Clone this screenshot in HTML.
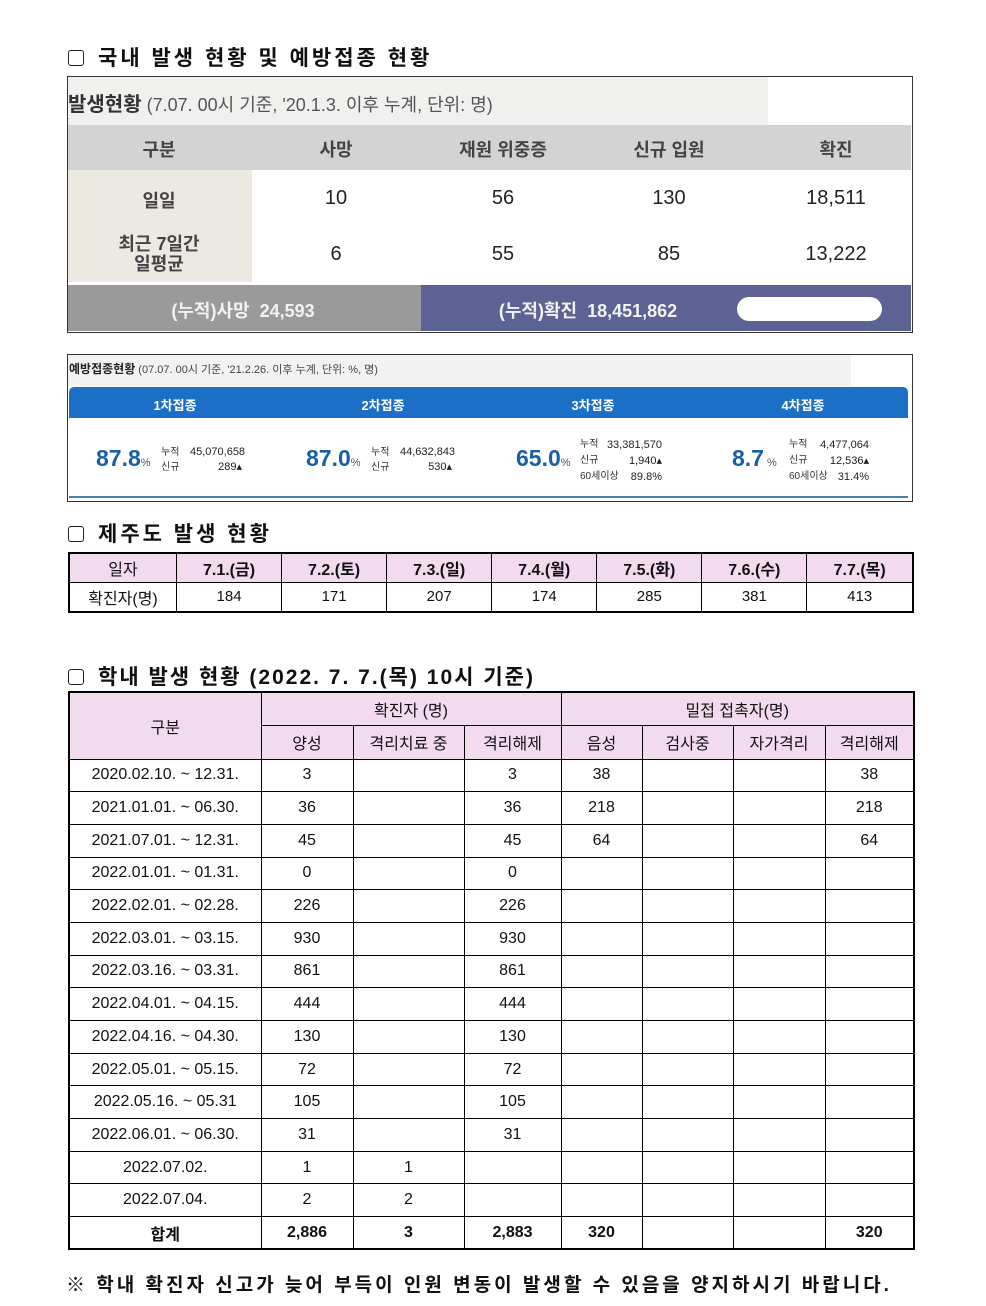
<!DOCTYPE html>
<html><head><meta charset="utf-8"><style>
body{margin:0;width:986px;height:1306px;background:#fff;font-family:"Liberation Sans","Noto Sans CJK KR",sans-serif;position:relative;overflow:hidden;color:#111}
.a{position:absolute}
.h{font-size:21px;font-weight:bold;letter-spacing:3px;white-space:nowrap}
.cb{display:inline-block;width:14px;height:14px;border:1.5px solid #222;border-radius:3px;margin-right:14px;vertical-align:-1px}
.c{position:absolute;text-align:center;transform:translateX(-50%);white-space:nowrap}
table{border-collapse:collapse;position:absolute}
td{border:1px solid #000;text-align:center;padding:0;font-size:16px}
.pk{background:#f3dbef}
</style></head><body>
<div class="a h" style="left:68px;top:42px"><span class="cb"></span>국내 발생 현황 및 예방접종 현황</div>

<div class="a" style="left:67px;top:76px;width:844px;height:255px;border:1px solid #333;background:#fff"></div>
<div class="a" style="left:68px;top:77px;width:700px;height:48px;background:#f0f0ee"></div>
<div class="a" style="left:68px;top:88px;font-size:18px;color:#555;white-space:nowrap"><b style="color:#333;font-size:20px">발생현황</b> (7.07. 00시 기준, '20.1.3. 이후 누계, 단위: 명)</div>
<div class="a" style="left:68px;top:125px;width:843px;height:45px;background:#d3d3d3"></div>
<div class="a" style="left:68px;top:170px;width:184px;height:112px;background:#ece9e3"></div>
<div class="a" style="left:68px;top:285px;width:353px;height:46px;background:#9a9a9a"></div>
<div class="a" style="left:421px;top:285px;width:490px;height:46px;background:#5c6294"></div>
<div class="a" style="left:737px;top:297px;width:145px;height:24px;background:#fff;border-radius:12px"></div>
<div class="c" style="left:159px;top:136px;font-size:18px;font-weight:bold;color:#444">구분</div>
<div class="c" style="left:336px;top:136px;font-size:18px;font-weight:bold;color:#444">사망</div>
<div class="c" style="left:503px;top:136px;font-size:18px;font-weight:bold;color:#444">재원 위중증</div>
<div class="c" style="left:669px;top:136px;font-size:18px;font-weight:bold;color:#444">신규 입원</div>
<div class="c" style="left:836px;top:136px;font-size:18px;font-weight:bold;color:#444">확진</div>
<div class="c" style="left:159px;top:187px;font-size:18px;font-weight:bold;color:#444">일일</div>
<div class="c" style="left:159px;top:234px;font-size:18px;font-weight:bold;color:#444;line-height:20px">최근 7일간<br>일평균</div>
<div class="c" style="left:336px;top:187px;font-size:20px;color:#222">10</div>
<div class="c" style="left:503px;top:187px;font-size:20px;color:#222">56</div>
<div class="c" style="left:669px;top:187px;font-size:20px;color:#222">130</div>
<div class="c" style="left:836px;top:187px;font-size:20px;color:#222">18,511</div>
<div class="c" style="left:336px;top:243px;font-size:20px;color:#222">6</div>
<div class="c" style="left:503px;top:243px;font-size:20px;color:#222">55</div>
<div class="c" style="left:669px;top:243px;font-size:20px;color:#222">85</div>
<div class="c" style="left:836px;top:243px;font-size:20px;color:#222">13,222</div>
<div class="c" style="left:243px;top:297px;font-size:18px;font-weight:bold;color:#f2f2f2">(누적)사망&nbsp;&nbsp;24,593</div>
<div class="c" style="left:588px;top:297px;font-size:18px;font-weight:bold;color:#f2f2f2">(누적)확진&nbsp;&nbsp;18,451,862</div>

<div class="a" style="left:67px;top:354px;width:844px;height:146px;border:1px solid #333;background:#fff"></div>
<div class="a" style="left:68px;top:355px;width:783px;height:31px;background:#f2f2f2"></div>
<div class="a" style="left:69px;top:360px;font-size:11px;color:#444;white-space:nowrap"><b style="font-size:12px;color:#222">예방접종현황</b> (07.07. 00시 기준, '21.2.26. 이후 누계, 단위: %, 명)</div>
<div class="a" style="left:69px;top:387px;width:839px;height:31px;background:#1c6fc6;border-radius:5px 5px 0 0"></div>
<div class="a" style="left:69px;top:496px;width:839px;height:2px;background:#4a7fb0"></div>
<div class="c" style="left:175px;top:395px;font-size:13px;color:#fff;font-weight:bold">1차접종</div>
<div class="c" style="left:383px;top:395px;font-size:13px;color:#fff;font-weight:bold">2차접종</div>
<div class="c" style="left:593px;top:395px;font-size:13px;color:#fff;font-weight:bold">3차접종</div>
<div class="c" style="left:803px;top:395px;font-size:13px;color:#fff;font-weight:bold">4차접종</div>
<div class="a" style="left:96px;top:445px;font-size:23px;color:#1a5ea8;font-weight:bold;white-space:nowrap">87.8<span style="font-size:11px;color:#555;font-weight:normal">%</span></div>
<div class="a" style="left:161px;top:445px;font-size:10px;color:#333;line-height:15px">누적<br>신규</div>
<div class="a" style="left:190px;top:445px;width:52px;font-size:11px;color:#222;line-height:15px;text-align:right">45,070,658<br>289▴</div>
<div class="a" style="left:306px;top:445px;font-size:23px;color:#1a5ea8;font-weight:bold;white-space:nowrap">87.0<span style="font-size:11px;color:#555;font-weight:normal">%</span></div>
<div class="a" style="left:371px;top:445px;font-size:10px;color:#333;line-height:15px">누적<br>신규</div>
<div class="a" style="left:400px;top:445px;width:52px;font-size:11px;color:#222;line-height:15px;text-align:right">44,632,843<br>530▴</div>
<div class="a" style="left:516px;top:445px;font-size:23px;color:#1a5ea8;font-weight:bold;white-space:nowrap">65.0<span style="font-size:11px;color:#555;font-weight:normal">%</span></div>
<div class="a" style="left:580px;top:437px;font-size:10px;color:#333;line-height:16px">누적<br>신규<br>60세이상</div>
<div class="a" style="left:606px;top:437px;width:56px;font-size:11px;color:#222;line-height:16px;text-align:right">33,381,570<br>1,940▴<br>89.8%</div>
<div class="a" style="left:732px;top:445px;font-size:23px;color:#1a5ea8;font-weight:bold;white-space:nowrap">8.7<span style="font-size:11px;color:#555;font-weight:normal">&nbsp;%</span></div>
<div class="a" style="left:789px;top:437px;font-size:10px;color:#333;line-height:16px">누적<br>신규<br>60세이상</div>
<div class="a" style="left:815px;top:437px;width:54px;font-size:11px;color:#222;line-height:16px;text-align:right">4,477,064<br>12,536▴<br>31.4%</div>

<div class="a h" style="left:68px;top:518px"><span class="cb"></span>제주도 발생 현황</div>
<table style="left:68px;top:552px;width:846px;border:2px solid #000">
<tr class="pk" style="height:29px"><td style="width:106px">일자</td><td style="font-weight:bold">7.1.(금)</td><td style="font-weight:bold">7.2.(토)</td><td style="font-weight:bold">7.3.(일)</td><td style="font-weight:bold">7.4.(월)</td><td style="font-weight:bold">7.5.(화)</td><td style="font-weight:bold">7.6.(수)</td><td style="font-weight:bold">7.7.(목)</td></tr>
<tr style="height:30px;font-size:15px"><td>확진자(명)</td><td style="font-size:15px">184</td><td style="font-size:15px">171</td><td style="font-size:15px">207</td><td style="font-size:15px">174</td><td style="font-size:15px">285</td><td style="font-size:15px">381</td><td style="font-size:15px">413</td></tr>
</table>

<div class="a h" style="left:68px;top:661px;letter-spacing:2px"><span class="cb"></span>학내 발생 현황 (2022. 7. 7.(목) 10시 기준)</div>
<table style="left:68px;top:691px;width:847px;border:2px solid #000">
<colgroup><col style="width:192px"><col style="width:92px"><col style="width:111px"><col style="width:97px"><col style="width:81px"><col style="width:91px"><col style="width:92px"><col></colgroup>
<tr class="pk" style="height:33px"><td rowspan="2">구분</td><td colspan="3">확진자 (명)</td><td colspan="4">밀접 접촉자(명)</td></tr>
<tr class="pk" style="height:34px"><td>양성</td><td>격리치료 중</td><td>격리해제</td><td>음성</td><td>검사중</td><td>자가격리</td><td>격리해제</td></tr>
<tr style="height:32.7px"><td>2020.02.10. ~ 12.31.</td><td>3</td><td></td><td>3</td><td>38</td><td></td><td></td><td>38</td></tr>
<tr style="height:32.7px"><td>2021.01.01. ~ 06.30.</td><td>36</td><td></td><td>36</td><td>218</td><td></td><td></td><td>218</td></tr>
<tr style="height:32.7px"><td>2021.07.01. ~ 12.31.</td><td>45</td><td></td><td>45</td><td>64</td><td></td><td></td><td>64</td></tr>
<tr style="height:32.7px"><td>2022.01.01. ~ 01.31.</td><td>0</td><td></td><td>0</td><td></td><td></td><td></td><td></td></tr>
<tr style="height:32.7px"><td>2022.02.01. ~ 02.28.</td><td>226</td><td></td><td>226</td><td></td><td></td><td></td><td></td></tr>
<tr style="height:32.7px"><td>2022.03.01. ~ 03.15.</td><td>930</td><td></td><td>930</td><td></td><td></td><td></td><td></td></tr>
<tr style="height:32.7px"><td>2022.03.16. ~ 03.31.</td><td>861</td><td></td><td>861</td><td></td><td></td><td></td><td></td></tr>
<tr style="height:32.7px"><td>2022.04.01. ~ 04.15.</td><td>444</td><td></td><td>444</td><td></td><td></td><td></td><td></td></tr>
<tr style="height:32.7px"><td>2022.04.16. ~ 04.30.</td><td>130</td><td></td><td>130</td><td></td><td></td><td></td><td></td></tr>
<tr style="height:32.7px"><td>2022.05.01. ~ 05.15.</td><td>72</td><td></td><td>72</td><td></td><td></td><td></td><td></td></tr>
<tr style="height:32.7px"><td>2022.05.16. ~ 05.31</td><td>105</td><td></td><td>105</td><td></td><td></td><td></td><td></td></tr>
<tr style="height:32.7px"><td>2022.06.01. ~ 06.30.</td><td>31</td><td></td><td>31</td><td></td><td></td><td></td><td></td></tr>
<tr style="height:32.7px"><td>2022.07.02.</td><td>1</td><td>1</td><td></td><td></td><td></td><td></td><td></td></tr>
<tr style="height:32.7px"><td>2022.07.04.</td><td>2</td><td>2</td><td></td><td></td><td></td><td></td><td></td></tr>
<tr style="height:32.7px;font-weight:bold"><td>합계</td><td>2,886</td><td>3</td><td>2,883</td><td>320</td><td></td><td></td><td>320</td></tr>
</table>

<div class="a" style="left:66px;top:1270px;font-size:19px;font-weight:bold;letter-spacing:3px;white-space:nowrap">※ 학내 확진자 신고가 늦어 부득이 인원 변동이 발생할 수 있음을 양지하시기 바랍니다.</div>
</body></html>
